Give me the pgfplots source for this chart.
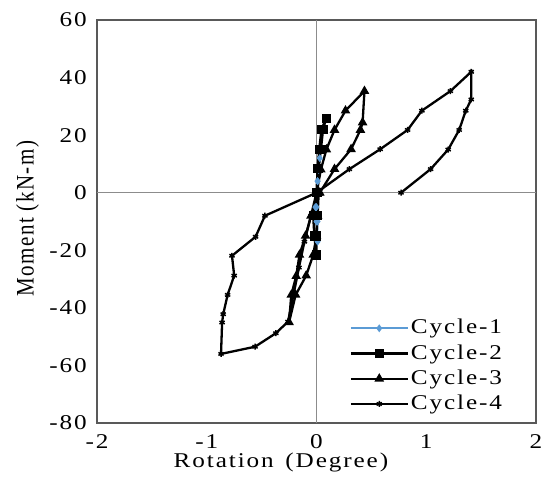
\documentclass[border=0pt]{standalone}
\usepackage{fontspec}
\setmainfont{Liberation Serif}[FakeStretch=1.2, LetterSpace=9]
\newfontfamily\ylabfont{Liberation Serif}[LetterSpace=7]
\usepackage{graphicx}
\usepackage{pgfplots}
\pgfplotsset{compat=1.18}
\definecolor{cyc1}{HTML}{5B9BD5}
\definecolor{axgray}{HTML}{595959}
\definecolor{zgray}{HTML}{8C8C8C}
\begin{document}
\fontsize{21}{25}\selectfont
\begin{tikzpicture}[x=1pt,y=1pt]
\path[use as bounding box] (-97,-65) rectangle (451,423);
\begin{axis}[
  scale only axis,
  width=439pt, height=403pt,
  at={(0,0)}, anchor=south west,
  xmin=-2, xmax=2, ymin=-80, ymax=60,
  xtick={-2,-1,0,1,2}, ytick={-80,-60,-40,-20,0,20,40,60},
  major tick length=0pt,
  axis line style={axgray, line width=1.2pt},
  tick label style={font=\fontsize{21}{25}\selectfont},
  /pgf/number format/assume math mode=true,
  yticklabel style={xshift=-3pt},
  xticklabel style={yshift=-4pt},
  xlabel={Rotation\, (Degree)},
  ylabel={\scalebox{1}[1.2]{\ylabfont Moment (kN-m)}},
  xlabel style={font=\fontsize{21}{25}\selectfont, at={(axis description cs:0.419,-0.099)}, anchor=center},
  ylabel style={font=\fontsize{21}{25}\selectfont, at={(axis description cs:-0.158,0.507)}, anchor=center},
  extra x ticks={0}, extra x tick labels={},
  extra y ticks={0}, extra y tick labels={},
  extra tick style={grid=major, major grid style={zgray, line width=0.8pt}},
  clip=false,
  legend cell align=left,
  legend style={draw=none, fill=none, at={(0.575,0)}, anchor=south west,
    font=\fontsize{21}{25}\selectfont, row sep=3.5pt,
    inner xsep=0pt, inner ysep=8pt},
  legend image code/.code={\draw[mark repeat=2,mark phase=2] plot coordinates {(0pt,0pt) (28.5pt,0pt) (57pt,0pt)};},
]
\addplot[cyc1, line width=1.8pt, mark=diamond*, mark size=2.5pt, mark options={solid}] coordinates {
(0,0) (0.01,4) (0.02,8) (0.03,12) (0.02,8) (0.01,4) (0,0) (0,-5) (0.01,-10) (0.01,-17) (0,-10) (-0.01,-5) (0,0)
};
\addlegendentry{Cycle-1}
\addplot[black, line width=2.3pt, mark=square*, mark size=3.5pt] coordinates {
(0,0) (0.01,8.5) (0.025,15) (0.045,22) (0.088,25.8) (0.06,22) (0.04,15) (0.02,8.5) (0.01,0) (0.005,-8) (0.0,-15) (0.0,-21.6) (-0.02,-15) (-0.03,-8) (0,0)
};
\addlegendentry{Cycle-2}
\addplot[black, line width=2.3pt, mark=triangle*, mark size=3.3pt] coordinates {
(0,0) (0.04,8) (0.09,15) (0.164,21.8) (0.264,28.5) (0.437,35.3) (0.42,24.4) (0.40,21.8) (0.315,15.1) (0.164,8.2) (0.03,0) (-0.05,-8) (-0.1,-15) (-0.155,-21.6) (-0.185,-29) (-0.23,-35.5) (-0.25,-45) (-0.19,-35.5) (-0.094,-28.8) (-0.03,-21.6) (0.0,-15) (0.01,-8) (0.02,0)
};
\addlegendentry{Cycle-3}
\addplot[black, line width=2.3pt, mark=asterisk, mark size=3pt, mark options={line width=1.5pt}] coordinates {
(0.77,0) (1.04,8.2) (1.20,15) (1.30,21.8) (1.36,28.5) (1.41,32.4) (1.41,42) (1.22,35.3) (0.96,28.5) (0.83,21.8) (0.58,15.1) (0.30,8.2) (0,0) (-0.47,-8) (-0.555,-15.3) (-0.77,-21.9) (-0.75,-28.8) (-0.81,-35.5) (-0.85,-42.2) (-0.86,-45.1) (-0.87,-56) (-0.56,-53.5) (-0.37,-48.8) (-0.26,-44.8) (-0.21,-35.5) (-0.16,-26) (-0.11,-17) (-0.05,-8) (0,0)
};
\addlegendentry{Cycle-4}
\end{axis}
\end{tikzpicture}
\end{document}
